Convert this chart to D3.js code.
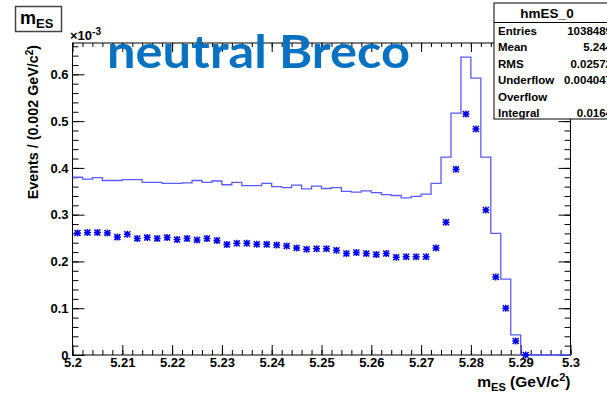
<!DOCTYPE html>
<html>
<head>
<meta charset="utf-8">
<script src="https://cdn.jsdelivr.net/npm/d3@7/dist/d3.min.js"></script>
<style>
html,body{margin:0;padding:0;background:#fff;}
svg{display:block;font-family:"Liberation Sans",Arial,Helvetica,sans-serif;}
</style>
</head>
<body>
<svg id="chart" width="607" height="393"></svg>
<script>
// ---- data (values in units of 10^-3 events per bin) ----
const binCenters = [5.201,5.203,5.205,5.207,5.209,5.211,5.213,5.215,5.217,5.219,
  5.221,5.223,5.225,5.227,5.229,5.231,5.233,5.235,5.237,5.239,
  5.241,5.243,5.245,5.247,5.249,5.251,5.253,5.255,5.257,5.259,
  5.261,5.263,5.265,5.267,5.269,5.271,5.273,5.275,5.277,5.279,
  5.281,5.283,5.285,5.287,5.289,5.291,5.293,5.295,5.297,5.299];
const binWidth = 0.002;
const histValues = [0.380,0.376,0.379,0.373,0.373,0.375,0.375,0.369,0.369,0.367,
  0.367,0.368,0.373,0.369,0.372,0.364,0.369,0.362,0.362,0.367,
  0.360,0.358,0.363,0.355,0.361,0.356,0.358,0.350,0.348,0.351,
  0.347,0.343,0.341,0.336,0.339,0.344,0.367,0.423,0.517,0.637,
  0.592,0.423,0.260,0.162,0.043,0,0,0,0,0];
const markerValues = [0.261,0.262,0.262,0.261,0.252,0.258,0.249,0.251,0.249,0.251,
  0.247,0.249,0.246,0.249,0.245,0.236,0.239,0.239,0.237,0.2365,
  0.235,0.233,0.229,0.226,0.227,0.227,0.224,0.217,0.219,0.217,
  0.215,0.217,0.209,0.210,0.210,0.210,0.229,0.284,0.397,0.515,
  0.483,0.310,0.167,0.100,0.030,0.000];
const xTickValues = [5.2,5.21,5.22,5.23,5.24,5.25,5.26,5.27,5.28,5.29,5.3];
const xTickLabels = ["5.2","5.21","5.22","5.23","5.24","5.25","5.26","5.27","5.28","5.29","5.3"];
const yTickValues = [0,0.1,0.2,0.3,0.4,0.5,0.6];
const yTickLabels = ["0","0.1","0.2","0.3","0.4","0.5","0.6"];
const statsTitle = "hmES_0";
const statsNames = ["Entries","Mean","RMS","Underflow","Overflow","Integral"];
const statsValues = ["1038489","5.244","0.02572","0.004047","","0.0164"];

// ---- layout ----
const svg = d3.select("#chart");
const L = 72.5, R = 570.5, T = 43, B = 355;
const x = d3.scaleLinear().domain([5.2, 5.3]).range([L, R]);
const y = d3.scaleLinear().domain([0, 0.667]).range([B, T]);
const lineColor = "#5a5aff";
const markColor = "#0000f0";

// frame
svg.append("rect").attr("x", L).attr("y", T).attr("width", R - L).attr("height", B - T)
  .attr("fill", "none").attr("stroke", "#000").attr("stroke-width", 1);

// minor ticks
const xMinor = d3.range(0, 51).map(i => 5.2 + i * 0.002);
const yMinor = d3.range(0, 34).map(i => i * 0.02);

function styleAxis(g) {
  g.select(".domain").remove();
  g.selectAll("line").attr("stroke", "#000").attr("stroke-width", 1);
  g.selectAll("text").attr("font-size", 13).attr("font-weight", "bold").attr("fill", "#000")
    .attr("font-family", null);
}

// bottom axis (ticks inward)
svg.append("g").attr("transform", `translate(0,${B})`)
  .call(d3.axisBottom(x).tickValues(xMinor).tickSize(-5).tickFormat(""))
  .call(styleAxis);
svg.append("g").attr("transform", `translate(0,${B})`)
  .call(d3.axisBottom(x).tickValues(xTickValues).tickSize(-10).tickPadding(3)
    .tickFormat((d, i) => xTickLabels[i]))
  .call(styleAxis);
// top ticks
svg.append("g").attr("transform", `translate(0,${T})`)
  .call(d3.axisTop(x).tickValues(xMinor).tickSize(-4).tickFormat(""))
  .call(styleAxis);
svg.append("g").attr("transform", `translate(0,${T})`)
  .call(d3.axisTop(x).tickValues(xTickValues).tickSize(-9).tickFormat(""))
  .call(styleAxis);
// left axis
svg.append("g").attr("transform", `translate(${L},0)`)
  .call(d3.axisLeft(y).tickValues(yMinor).tickSize(-6).tickFormat(""))
  .call(styleAxis);
svg.append("g").attr("transform", `translate(${L},0)`)
  .call(d3.axisLeft(y).tickValues(yTickValues).tickSize(-12).tickPadding(4)
    .tickFormat((d, i) => yTickLabels[i]))
  .call(styleAxis);
// right ticks
svg.append("g").attr("transform", `translate(${R},0)`)
  .call(d3.axisRight(y).tickValues(yMinor).tickSize(-6).tickFormat(""))
  .call(styleAxis);
svg.append("g").attr("transform", `translate(${R},0)`)
  .call(d3.axisRight(y).tickValues(yTickValues).tickSize(-12).tickFormat(""))
  .call(styleAxis);

// histogram outline
const stepPts = binCenters.map((c, i) => [c - binWidth / 2, histValues[i]]);
stepPts.push([binCenters[binCenters.length - 1] + binWidth / 2, histValues[histValues.length - 1]]);
svg.append("path")
  .attr("d", d3.line().x(d => x(d[0])).y(d => y(d[1])).curve(d3.curveStepAfter)(stepPts))
  .attr("fill", "none").attr("stroke", lineColor).attr("stroke-width", 1.3);

// markers (asterisk style)
const s = 3.5;
const mk = svg.append("g").attr("stroke", markColor).attr("stroke-width", 1.5);
markerValues.forEach((v, i) => {
  const cx = x(binCenters[i]), cy = y(v);
  mk.append("path").attr("d",
    `M${cx - s},${cy}H${cx + s}M${cx},${cy - s}V${cy + s}` +
    `M${cx - s * 0.85},${cy - s * 0.85}L${cx + s * 0.85},${cy + s * 0.85}` +
    `M${cx - s * 0.85},${cy + s * 0.85}L${cx + s * 0.85},${cy - s * 0.85}`);
});

// x10^-3
const ex = svg.append("text").attr("x", 70).attr("y", 40).attr("font-size", 13).attr("font-weight", "bold");
ex.append("tspan").text("×10");
ex.append("tspan").attr("dy", -5).attr("font-size", 10).text("-3");

// y axis title
const yt = svg.append("text").attr("transform", `translate(38,${T + 2}) rotate(-90)`)
  .attr("text-anchor", "end").attr("font-size", 14.3).attr("font-weight", "bold");
yt.append("tspan").text("Events / (0.002 GeV/c");
yt.append("tspan").attr("dy", -5).attr("font-size", 10).text("2");
yt.append("tspan").attr("dy", 5).text(")");

// x axis title
const xt = svg.append("text").attr("x", R).attr("y", 387).attr("text-anchor", "end")
  .attr("font-size", 15.5).attr("font-weight", "bold");
xt.append("tspan").text("m");
xt.append("tspan").attr("dy", 4).attr("font-size", 11).text("ES");
xt.append("tspan").attr("dy", -4).text(" (GeV/c");
xt.append("tspan").attr("dy", -6).attr("font-size", 11).text("2");
xt.append("tspan").attr("dy", 6).text(")");

// histogram title box
svg.append("rect").attr("x", 15.5).attr("y", 6.5).attr("width", 46).attr("height", 25)
  .attr("fill", "#fff").attr("stroke", "#444").attr("stroke-width", 1.5);
const tt = svg.append("text").attr("x", 20).attr("y", 24).attr("font-size", 18).attr("font-weight", "bold");
tt.append("tspan").text("m");
tt.append("tspan").attr("dy", 4).attr("font-size", 13).text("ES");

// big label
const big = svg.append("text").attr("x", 107).attr("y", 68)
  .style("font-family", "Lato, 'Open Sans', sans-serif").attr("font-weight", "bold")
  .attr("font-size", 46).attr("fill", "#0872c2").text("neutral Breco");
big.attr("textLength", 303).attr("lengthAdjust", "spacingAndGlyphs");

// stats box
const sx = 494, sy = 3, sw = 120, sh = 116;
svg.append("rect").attr("x", sx).attr("y", sy).attr("width", sw).attr("height", sh)
  .attr("fill", "#fff").attr("stroke", "#000").attr("stroke-width", 1);
svg.append("line").attr("x1", sx).attr("x2", sx + sw).attr("y1", 22.5).attr("y2", 22.5)
  .attr("stroke", "#000");
svg.append("text").attr("x", 547).attr("y", 18).attr("text-anchor", "middle")
  .attr("font-size", 13.5).attr("font-weight", "bold").text(statsTitle);
statsNames.forEach((n, i) => {
  const yy = 35 + i * 16.4;
  svg.append("text").attr("x", 498).attr("y", yy).attr("font-size", 11.5)
    .attr("font-weight", "bold").text(n);
  svg.append("text").attr("x", 612).attr("y", yy).attr("text-anchor", "end")
    .attr("font-size", 11.5).attr("font-weight", "bold").text(statsValues[i]);
});
</script>
</body>
</html>
